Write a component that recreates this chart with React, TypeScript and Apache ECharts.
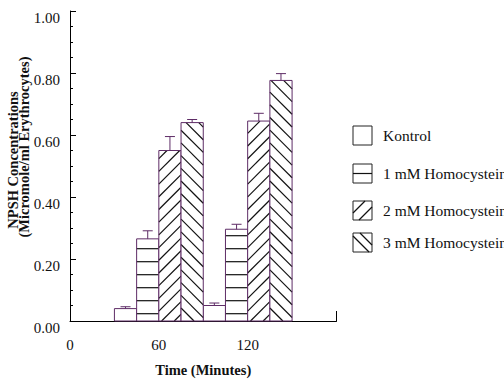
import React, { useEffect, useRef } from "react";
import * as echarts from "echarts";

// ---- data ----
const times = [60, 120];
const seriesNames = ["Kontrol", "1 mM Homocysteine", "2 mM Homocysteine", "3 mM Homocysteine"];
const kontrol = [0.04, 0.05];
const kontrolErr = [0.006, 0.008];
const hcy1 = [0.265, 0.296];
const hcy1Err = [0.026, 0.016];
const hcy2 = [0.55, 0.645];
const hcy2Err = [0.045, 0.025];
const hcy3 = [0.64, 0.776];
const hcy3Err = [0.01, 0.022];
const xLabelValues = [0, 60, 120];
const xEndTick = [180];

const values = [kontrol, hcy1, hcy2, hcy3];
const errors = [kontrolErr, hcy1Err, hcy2Err, hcy3Err];
const patterns = ["none", "horizontal", "slash", "backslash"];

const BAR_W = 15; // minutes
const PURPLE = "#5e2c66";
const FONT = "'Liberation Serif', 'Times New Roman', serif";

function hatch(pattern: string, x0: number, x1: number, yt: number, yb: number) {
  const out: any[] = [];
  const ls = { stroke: "#111", lineWidth: 1.2 };
  if (pattern === "horizontal") {
    for (let y = yb - 7.3; y > yt + 1.5; y -= 13) {
      out.push({ type: "line", shape: { x1: x0, y1: y, x2: x1, y2: y }, style: ls });
    }
  } else if (pattern === "slash") {
    const P = 12.7;
    const n0 = Math.ceil((x0 + yt) / P);
    const n1 = Math.floor((x1 + yb) / P);
    for (let n = n0; n <= n1; n++) {
      const k = n * P;
      const xa = Math.max(x0, k - yb);
      const xb = Math.min(x1, k - yt);
      if (xb - xa > 0.5) out.push({ type: "line", shape: { x1: xa, y1: k - xa, x2: xb, y2: k - xb }, style: ls });
    }
  } else if (pattern === "backslash") {
    const P = 12.7;
    const n0 = Math.ceil((yt - x1) / P);
    const n1 = Math.floor((yb - x0) / P);
    for (let n = n0; n <= n1; n++) {
      const k = n * P;
      const xa = Math.max(x0, yt - k);
      const xb = Math.min(x1, yb - k);
      if (xb - xa > 0.5) out.push({ type: "line", shape: { x1: xa, y1: k + xa, x2: xb, y2: k + xb }, style: ls });
    }
  }
  return out;
}

function makeSeries(idx: number) {
  const data = times.map((t, j) => [t + (idx - 1.5) * BAR_W, values[idx][j], errors[idx][j]]);
  return {
    type: "custom",
    name: seriesNames[idx],
    data,
    renderItem: (params: any, api: any) => {
      const x = api.value(0);
      const v = api.value(1);
      const e = api.value(2);
      const p1 = api.coord([x - BAR_W / 2, v]);
      const p2 = api.coord([x + BAR_W / 2, 0]);
      const x0 = p1[0], x1 = p2[0], yt = p1[1], yb = p2[1];
      const cx = (x0 + x1) / 2;
      const pe = api.coord([x, v + e]);
      return {
        type: "group",
        children: [
          { type: "rect", shape: { x: x0, y: yt, width: x1 - x0, height: yb - yt }, style: { fill: "#fff", stroke: null } },
          ...hatch(patterns[idx], x0, x1, yt, yb),
          { type: "rect", shape: { x: x0, y: yt, width: x1 - x0, height: yb - yt }, style: { fill: null, stroke: PURPLE, lineWidth: 1 } },
          { type: "line", shape: { x1: cx, y1: yt, x2: cx, y2: pe[1] }, style: { stroke: PURPLE, lineWidth: 1 } },
          { type: "line", shape: { x1: cx - 5, y1: pe[1], x2: cx + 5, y2: pe[1] }, style: { stroke: PURPLE, lineWidth: 1 } },
        ],
      };
    },
  };
}

function legendGraphic() {
  const boxX = 353;
  const boxYs = [126, 164, 201, 233];
  const S = 19;
  const items: any[] = [];
  seriesNames.forEach((name, i) => {
    const y0 = boxYs[i];
    const children: any[] = [
      { type: "rect", shape: { x: boxX, y: y0, width: S, height: S }, style: { fill: "#fff", stroke: "#222", lineWidth: 1 } },
    ];
    const ls = { stroke: "#111", lineWidth: 1.2 };
    if (patterns[i] === "horizontal") {
      children.push({ type: "line", shape: { x1: boxX, y1: y0 + S / 2, x2: boxX + S, y2: y0 + S / 2 }, style: ls });
    } else if (patterns[i] === "slash") {
      children.push({ type: "line", shape: { x1: boxX, y1: y0 + 12, x2: boxX + 12, y2: y0 }, style: ls });
      children.push({ type: "line", shape: { x1: boxX + 6, y1: y0 + S, x2: boxX + S, y2: y0 + 6 }, style: ls });
    } else if (patterns[i] === "backslash") {
      children.push({ type: "line", shape: { x1: boxX, y1: y0 + 3, x2: boxX + 16, y2: y0 + S }, style: ls });
      children.push({ type: "line", shape: { x1: boxX + 7, y1: y0, x2: boxX + S, y2: y0 + 12 }, style: ls });
    }
    children.push({
      type: "text",
      x: 383,
      y: y0 + S / 2,
      style: { text: name, fill: "#111", fontFamily: FONT, fontSize: 15.5, align: "left", verticalAlign: "middle" },
    });
    items.push({ type: "group", children });
  });
  return items;
}

export default function App() {
  const ref = useRef<HTMLDivElement>(null);
  useEffect(() => {
    document.body.style.margin = "0";
    if (!ref.current) return;
    const chart = echarts.init(ref.current, undefined, { renderer: "svg" });
    chart.setOption({
      animation: false,
      backgroundColor: "#fff",
      textStyle: { fontFamily: FONT },
      grid: { left: 70, right: 167.5, top: 11, bottom: 58.5, containLabel: false },
      xAxis: {
        type: "value",
        min: 0,
        max: 180,
        interval: 60,
        axisLine: { show: true, lineStyle: { color: "#000", width: 1 } },
        axisTick: { show: true, inside: true, length: 10, customValues: xEndTick, lineStyle: { color: "#000" } },
        axisLabel: {
          show: true,
          customValues: xLabelValues,
          margin: 16,
          color: "#111",
          fontFamily: FONT,
          fontSize: 15,
        },
        splitLine: { show: false },
        name: "Time (Minutes)",
        nameLocation: "middle",
        nameGap: 41,
        nameTextStyle: { color: "#111", fontFamily: FONT, fontSize: 14.5, fontWeight: "bold" },
      },
      yAxis: {
        type: "value",
        min: 0,
        max: 1,
        interval: 0.2,
        axisLine: { show: true, lineStyle: { color: "#000", width: 1 } },
        axisTick: { show: true, inside: true, length: 6, lineStyle: { color: "#000" } },
        minorTick: { show: true, splitNumber: 4, length: 3, lineStyle: { color: "#000" } },
        axisLabel: {
          margin: 10,
          color: "#111",
          fontFamily: FONT,
          fontSize: 15,
          verticalAlign: "top",
          lineHeight: 13,
          formatter: (v: number) => v.toFixed(2),
        },
        splitLine: { show: false },
      },
      graphic: [
        {
          type: "text",
          x: 12.5,
          y: 160,
          rotation: Math.PI / 2,
          style: { text: "NPSH Concentrations", fill: "#111", fontFamily: FONT, fontSize: 14.5, fontWeight: "bold", align: "center", verticalAlign: "middle" },
        },
        {
          type: "text",
          x: 23.5,
          y: 147,
          rotation: Math.PI / 2,
          style: { text: "(Micromole/ml Erythrocytes)", fill: "#111", fontFamily: FONT, fontSize: 14.5, fontWeight: "bold", align: "center", verticalAlign: "middle" },
        },
        ...legendGraphic(),
      ],
      series: [0, 1, 2, 3].map(makeSeries),
    });
    return () => chart.dispose();
  }, []);
  return <div ref={ref} style={{ width: 504, height: 382 }} />;
}
